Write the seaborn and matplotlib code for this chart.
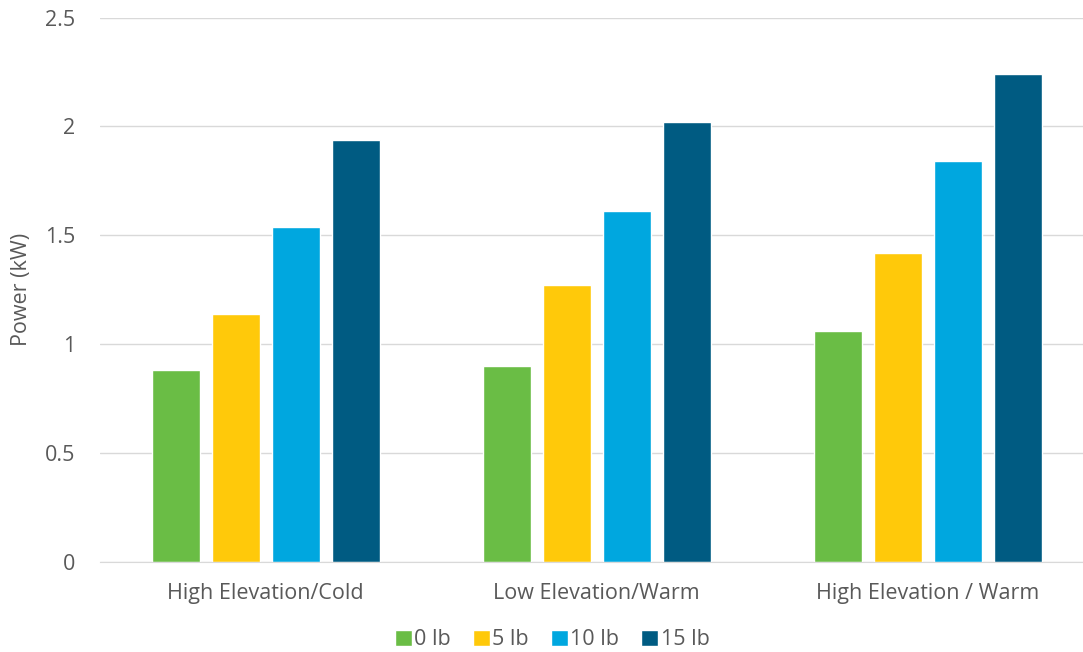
import matplotlib
matplotlib.use('Agg')
import matplotlib.pyplot as plt
import seaborn as sns
import pandas as pd

# data
conditions = ['High Elevation/Cold', 'Low Elevation/Warm', 'High Elevation / Warm']
loads = ['0 lb', '5 lb', '10 lb', '15 lb']
power_0lb = [0.88, 0.90, 1.06]
power_5lb = [1.14, 1.27, 1.42]
power_10lb = [1.54, 1.61, 1.84]
power_15lb = [1.94, 2.02, 2.24]
colors = ['#6ABD45', '#FFC90A', '#00A7DF', '#005B82']

rows = []
for load, vals in zip(loads, [power_0lb, power_5lb, power_10lb, power_15lb]):
    for c, v in zip(conditions, vals):
        rows.append({'condition': c, 'load': load, 'power': v})
df = pd.DataFrame(rows)

sns.set_style('white')
plt.rcParams['font.family'] = ['Open Sans', 'DejaVu Sans']

fig = plt.figure(figsize=(10.83, 6.52), dpi=100)
ax = fig.add_axes([0.0925, 0.138, 0.917, 0.835])

sns.barplot(data=df, x='condition', y='power', hue='load', palette=colors,
            width=0.725, gap=0.2, saturation=1, ax=ax)

ax.set_ylim(0, 2.5)
ax.set_yticks([0, 0.5, 1, 1.5, 2, 2.5])
ax.set_yticklabels(['0', '0.5', '1', '1.5', '2', '2.5'])
ax.yaxis.grid(True, color='#D9D9D9', linewidth=1)
ax.set_axisbelow(True)
for s in ['top', 'right', 'left']:
    ax.spines[s].set_visible(False)
ax.spines['bottom'].set_color('#D9D9D9')
ax.tick_params(axis='both', length=0, labelsize=15.5, colors='#595959')
ax.tick_params(axis='y', pad=18)
ax.tick_params(axis='x', pad=15)
ax.set_xlabel('')
ax.set_ylabel('Power (kW)', fontsize=15.5, color='#595959')
ax.yaxis.set_label_coords(-0.069, 0.5)

ax.legend(loc='upper center', bbox_to_anchor=(0.455, -0.096), ncol=4, frameon=False,
          fontsize=15.5, handlelength=0.8, handleheight=0.8, handletextpad=0.12,
          columnspacing=1.0, labelcolor='#595959', borderpad=0.2)

fig.savefig('out.png', dpi=100)
